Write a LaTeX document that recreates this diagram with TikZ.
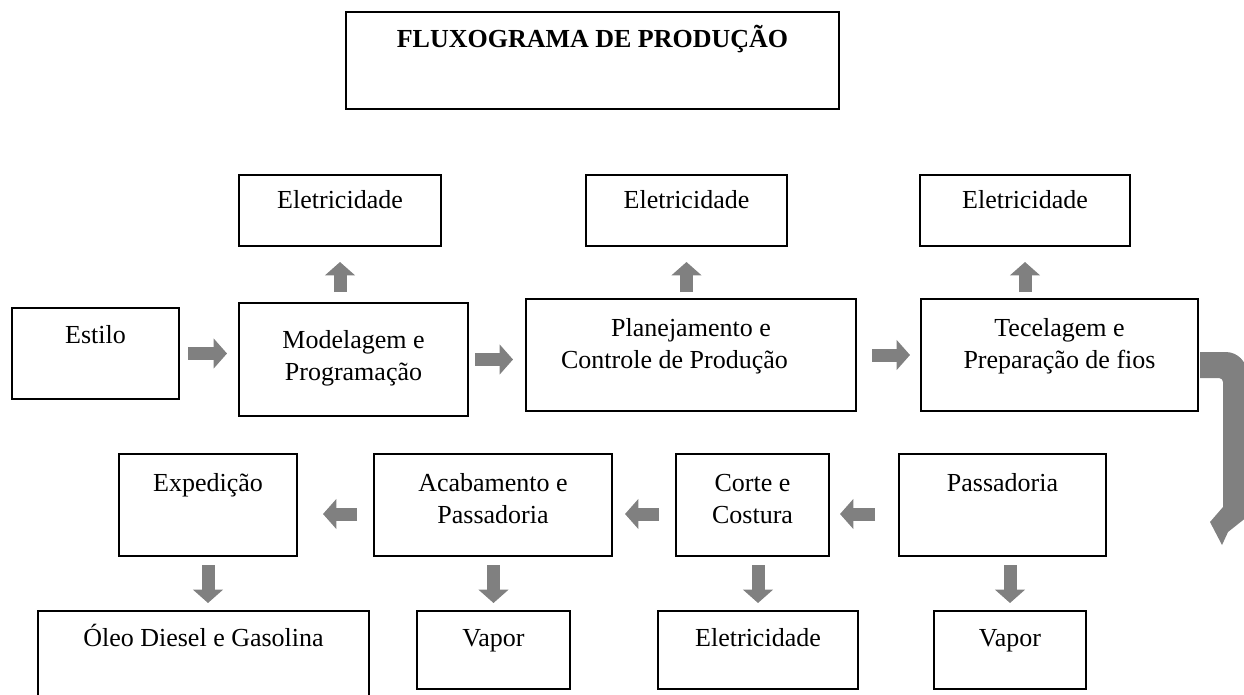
\documentclass[tikz,border=0pt]{standalone}
\usepackage{fontspec}
\setmainfont{Liberation Serif}
\usetikzlibrary{arrows.meta}
\definecolor{cinza}{RGB}{128,128,128}
\newdimen\upx \upx=0.75pt
% caixa com o texto no alto: [altura da 1a linha]{largura}{altura}{texto}
\newcommand{\caixatexto}[4][35]{\parbox[t][#3\upx][t]{#2\upx}{\centering\rule{0pt}{#1\upx}#4}}
\tikzset{
  caixa/.style={draw, line width=1.5pt, inner sep=0pt, anchor=north west},
  seta/.style={draw=cinza, line width=9.75pt, -{Triangle[width=22pt,length=10pt]}},
}

\begin{document}
\begin{tikzpicture}[x=0.75pt, y=-0.75pt, font=\fontsize{19.5}{24}\selectfont]
        \useasboundingbox (0,0) rectangle (1244,695);
        \node[caixa] (titulo) at (345,11) {\caixatexto[36]{493}{97}{\bfseries FLUXOGRAMA DE PRODUÇÃO}};

        % primeira linha
        \node[caixa] (eleta) at (238,174) {\caixatexto[34]{202}{71}{Eletricidade}};
        \node[caixa] (eletb) at (585,174) {\caixatexto[34]{201}{71}{Eletricidade}};
        \node[caixa] (eletc) at (919,174) {\caixatexto[34]{210}{71}{Eletricidade}};
        \node[caixa] (estilo) at (11,307) {\caixatexto{167}{91}{Estilo}};
        \node[caixa] (modelagem) at (238,302) {\caixatexto[45]{229}{113}{Modelagem e\\Programação}};
        \node[caixa] (planejamento) at (525,298) {\caixatexto[37]{330}{112}{Planejamento e\\Controle de Produção\hspace*{33\upx}}};
        \node[caixa] (tecelagem) at (920,298) {\caixatexto[37]{277}{112}{Tecelagem e\\Preparação de fios}};

        % segunda linha
        \node[caixa] (expedicao) at (118,453) {\caixatexto[37]{178}{102}{Expedição}};
        \node[caixa] (acabamento) at (373,453) {\caixatexto[37]{238}{102}{Acabamento e\\Passadoria}};
        \node[caixa] (corte) at (675,453) {\caixatexto[37]{153}{102}{Corte e\\Costura}};
        \node[caixa] (passadoria) at (898,453) {\caixatexto[37]{207}{102}{Passadoria}};

        % terceira linha
        \node[caixa] (oleo) at (37,610) {\caixatexto{331}{100}{Óleo Diesel e Gasolina}};
        \node[caixa] (vapora) at (416,610) {\caixatexto{153}{78}{Vapor}};
        \node[caixa] (eletd) at (657,610) {\caixatexto{200}{78}{Eletricidade}};
        \node[caixa] (vaporb) at (933,610) {\caixatexto{152}{78}{Vapor}};

        \draw[seta, shorten <=6pt, shorten >=8.25pt] (estilo.east) -- (estilo.east -| modelagem.west);
        \draw[seta, shorten <=4.5pt, shorten >=9pt] (modelagem.east) -- (modelagem.east -| planejamento.west);
        \draw[seta, shorten <=11.25pt, shorten >=7.5pt] (planejamento.east) -- (planejamento.east -| tecelagem.west);

        \draw[seta, shorten <=7.5pt, shorten >=11.25pt] (modelagem.north -| eleta.south) -- (eleta.south);
        \draw[seta, shorten <=4.5pt, shorten >=11.25pt] (planejamento.north -| eletb.south) -- (eletb.south);
        \draw[seta, shorten <=4.5pt, shorten >=11.25pt] (tecelagem.north -| eletc.south) -- (eletc.south);

        \draw[seta, shorten <=17.25pt, shorten >=7.5pt] ([yshift=-6.75pt]passadoria.west) -- ([yshift=-6.75pt]passadoria.west -| corte.east);
        \draw[seta, shorten <=12pt, shorten >=9pt] ([yshift=-6.75pt]corte.west) -- ([yshift=-6.75pt]corte.west -| acabamento.east);
        \draw[seta, shorten <=12pt, shorten >=18.75pt] ([yshift=-6.75pt]acabamento.west) -- ([yshift=-6.75pt]acabamento.west -| expedicao.east);

        \draw[seta, shorten <=6pt, shorten >=5.25pt] (expedicao.south) -- (expedicao.south |- oleo.north);
        \draw[seta, shorten <=6pt, shorten >=5.25pt] (vapora.north |- acabamento.south) -- (vapora.north);
        \draw[seta, shorten <=6pt, shorten >=5.25pt] (eletd.north |- corte.south) -- (eletd.north);
        \draw[seta, shorten <=6pt, shorten >=5.25pt] (vaporb.north |- passadoria.south) -- (vaporb.north);

        % seta curva da tecelagem para a passadoria
        \fill[cinza] (1200,352) [rounded corners=16pt] -- (1247,352) -- (1247,505) [sharp corners] -- (1262,505)
          -- (1228,532) -- (1222,545) -- (1210,522) -- (1223,507) [rounded corners=3pt] -- (1223,378) [sharp corners] -- (1200,378) -- cycle;
\end{tikzpicture}
\end{document}
